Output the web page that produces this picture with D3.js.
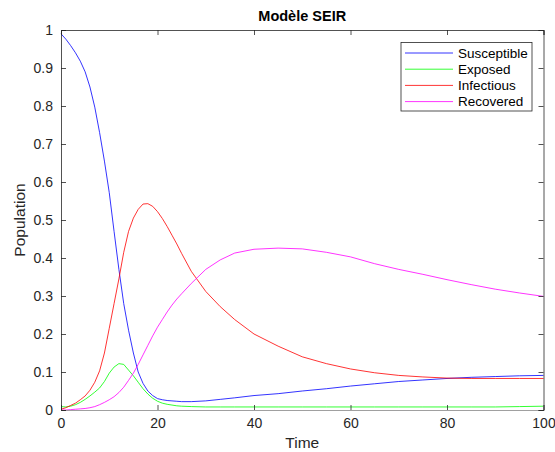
<!DOCTYPE html>
<html><head><meta charset="utf-8">
<script src="https://cdn.jsdelivr.net/npm/d3@7"></script>
<style>body{margin:0;background:#fff}svg{display:block}text{font-family:"Liberation Sans",Arial,sans-serif}</style>
</head><body>
<svg id="c" width="555" height="452"></svg>
<script>
const time = [0,1,2,3,4,5,6,7,8,9,10,11,12,13,14,15,16,17,18,19,20,21,22,23,24,25,27,30,33,36,40,45,50,55,60,65,70,75,80,85,90,95,100];
const susceptible = [0.99,0.976,0.959,0.94,0.918,0.89,0.85,0.797,0.73,0.655,0.572,0.47,0.37,0.28,0.21,0.15,0.10,0.07,0.05,0.038,0.03,0.027,0.025,0.024,0.023,0.022,0.022,0.024,0.028,0.032,0.038,0.043,0.05,0.056,0.063,0.069,0.075,0.079,0.083,0.086,0.088,0.09,0.091];
const exposed = [0.009,0.008,0.01,0.014,0.02,0.028,0.037,0.047,0.058,0.075,0.097,0.113,0.122,0.12,0.105,0.09,0.073,0.056,0.042,0.031,0.023,0.018,0.015,0.013,0.011,0.01,0.009,0.008,0.008,0.008,0.008,0.008,0.008,0.008,0.008,0.008,0.008,0.008,0.008,0.008,0.008,0.009,0.01];
const infectious = [0.002,0.006,0.012,0.018,0.027,0.037,0.052,0.073,0.103,0.15,0.215,0.28,0.345,0.415,0.47,0.505,0.528,0.542,0.543,0.536,0.522,0.504,0.483,0.46,0.437,0.412,0.365,0.312,0.272,0.238,0.20,0.168,0.14,0.122,0.108,0.098,0.091,0.087,0.084,0.083,0.083,0.083,0.083];
const recovered = [0,0,0.001,0.002,0.003,0.004,0.006,0.009,0.014,0.02,0.027,0.035,0.046,0.06,0.078,0.097,0.12,0.145,0.17,0.195,0.218,0.238,0.258,0.276,0.292,0.306,0.333,0.37,0.395,0.413,0.423,0.426,0.424,0.415,0.403,0.385,0.37,0.357,0.343,0.33,0.318,0.308,0.299];
const seriesNames = ["Susceptible","Exposed","Infectious","Recovered"];
const seriesColors = ["#0000ff","#00ff00","#ff0000","#ff00ff"];
const xTicks = [0,20,40,60,80,100];
const yTicks = [0,0.1,0.2,0.3,0.4,0.5,0.6,0.7,0.8,0.9,1];
const titleText = "Modèle SEIR", xLabel = "Time", yLabel = "Population";

const svg = d3.select("#c");
const L=61, R=543.5, T=30, B=410;
const x = d3.scaleLinear().domain([0,100]).range([L,R]);
const y = d3.scaleLinear().domain([0,1]).range([B,T]);
const axCol = "#262626";

const data = [susceptible, exposed, infectious, recovered];
const line = d3.line().x((d,i)=>x(time[i])).y(d=>y(d));
const g = svg.append("g");
data.forEach((s,k)=>{
  g.append("path").attr("d",line(s)).attr("fill","none").attr("stroke",seriesColors[k]).attr("stroke-width",0.8);
});

const fmt = d=>String(+d.toFixed(1));
const ax = svg.append("g").attr("transform",`translate(0,${B})`).call(d3.axisBottom(x).tickValues(xTicks).tickSize(-5).tickPadding(8).tickFormat(fmt));
const axT = svg.append("g").attr("transform",`translate(0,${T})`).call(d3.axisTop(x).tickValues(xTicks).tickSize(-5).tickFormat(""));
const ay = svg.append("g").attr("transform",`translate(${L},0)`).call(d3.axisLeft(y).tickValues(yTicks).tickSize(-5).tickPadding(8).tickFormat(fmt));
const ayR = svg.append("g").attr("transform",`translate(${R},0)`).call(d3.axisRight(y).tickValues(yTicks).tickSize(-5).tickFormat(""));
[ax,axT,ay,ayR].forEach(a=>{
  a.selectAll("path").attr("stroke",axCol).attr("stroke-width",0.8);
  a.selectAll("line").attr("stroke",axCol).attr("stroke-width",0.8);
  a.selectAll("text").attr("fill",axCol).style("font-size","14px").style("font-family","'Liberation Sans',Arial,sans-serif");
});
ax.selectAll("path").attr("stroke","#888");

svg.append("text").attr("x",(L+R)/2).attr("y",21).attr("text-anchor","middle").style("font-weight","bold").style("font-size","14.5px").attr("fill","#000").text(titleText);
svg.append("text").attr("x",(L+R)/2).attr("y",448).attr("text-anchor","middle").style("font-size","15.5px").attr("fill",axCol).text(xLabel);
svg.append("text").attr("transform",`translate(25,${(T+B)/2}) rotate(-90)`).attr("text-anchor","middle").style("font-size","15.5px").attr("fill",axCol).text(yLabel);

const lg = svg.append("g");
lg.append("rect").attr("x",401).attr("y",42.5).attr("width",131).attr("height",68.5).attr("fill","#fff").attr("stroke",axCol).attr("stroke-width",0.8);
seriesNames.forEach((n,k)=>{
  const yy = 53 + k*16.2;
  lg.append("line").attr("x1",405).attr("x2",453).attr("y1",yy).attr("y2",yy).attr("stroke",seriesColors[k]).attr("stroke-width",0.8);
  lg.append("text").attr("x",458).attr("y",yy+4.5).style("font-size","13.5px").attr("fill","#000").text(n);
});
</script>
</body></html>
